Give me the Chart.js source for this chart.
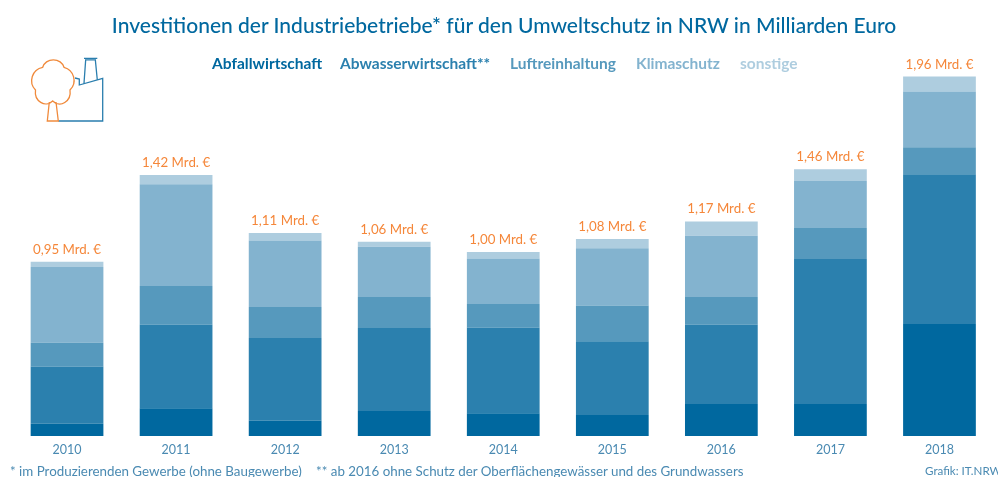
<!DOCTYPE html>
<html>
  <head>
    <meta charset="utf-8" />
    <script src="https://cdn.jsdelivr.net/npm/chart.js"></script>
    <style>
      html, body { margin: 0; padding: 0; background: #fff; }
      #wrap { position: relative; width: 998px; height: 477px; overflow: hidden; font-family: Lato, sans-serif; }
      #title { position: absolute; left: 0; width: 1008px; top: 12px; text-align: center; color: #00689f; font-size: 21px; font-weight: 500; white-space: nowrap; }
      #legend span { position: absolute; top: 54px; font-size: 15.5px; font-weight: 700; white-space: nowrap; }
      .note { position: absolute; top: 463px; color: #4a8ab2; font-size: 13.35px; white-space: nowrap; }
      #icon { position: absolute; left: 20px; top: 50px; }
    </style>
  </head>

  <body>
    <div id="wrap">
      <canvas id="chart" width="998" height="477"></canvas>
      <div id="title">Investitionen der Industriebetriebe* für den Umweltschutz in NRW in Milliarden Euro</div>
      <div id="legend"></div>
      <svg id="icon" width="100" height="80" viewBox="0 0 100 80" fill="none" stroke-width="1.3">
        <path d="M38.3 71 H82.7 V28.3 L59.3 35 V29 L55 28 M64 33.3 L65.7 9.5 M77.3 30 L75.3 9.5 M64 8.3 H77.3 M65 9.8 H76" stroke="#2a7eae" />
        <path d="M22.7 17.3 A11 10 0 0 1 44 17.3 A13.5 13.5 0 0 1 50 40 A10.5 12 0 0 1 32.7 51 A10.5 12 0 0 1 15.5 40 A13.5 13.5 0 0 1 22.7 17.3 Z M29.3 52 L27.3 71 H38.3 L36 52" stroke="#f08a3c" />
      </svg>
      <div class="note" style="left: 10px">* im Produzierenden Gewerbe (ohne Baugewerbe)</div>
      <div class="note" style="left: 316px">** ab 2016 ohne Schutz der Oberflächengewässer und des Grundwassers</div>
      <div class="note" style="left: 925px; font-size: 11.6px; top: 464px">Grafik: IT.NRW</div>
    </div>

    <script>
      const years = ["2010", "2011", "2012", "2013", "2014", "2015", "2016", "2017", "2018"];
      const abfall = [0.067, 0.151, 0.084, 0.136, 0.124, 0.114, 0.174, 0.174, 0.61];
      const abwasser = [0.312, 0.456, 0.45, 0.452, 0.467, 0.403, 0.434, 0.79, 0.817];
      const luft = [0.129, 0.211, 0.169, 0.169, 0.129, 0.194, 0.149, 0.169, 0.147];
      const klima = [0.413, 0.554, 0.363, 0.274, 0.247, 0.312, 0.334, 0.256, 0.303];
      const sonstige = [0.029, 0.051, 0.04, 0.027, 0.036, 0.051, 0.078, 0.065, 0.082];
      const totals = ["0,95", "1,42", "1,11", "1,06", "1,00", "1,08", "1,17", "1,46", "1,96"];

      const seriesNames = ["Abfallwirtschaft", "Abwasserwirtschaft**", "Luftreinhaltung", "Klimaschutz", "sonstige"];
      const barColors = ["#00689f", "#2b80ae", "#5699bd", "#83b3cf", "#aecddf"];
      const legendLeft = [212, 340, 510, 636, 740];

      document.getElementById("legend").innerHTML = seriesNames
        .map((name, i) => `<span style="left: ${legendLeft[i]}px; color: ${barColors[i]}">${name}</span>`)
        .join("");

      // writes the total above each stack
      const totalLabels = {
        id: "totalLabels",
        afterDatasetsDraw(chart) {
          const ctx = chart.ctx;
          const top = chart.getDatasetMeta(4).data;
          ctx.save();
          ctx.font = "13.3px Lato";
          ctx.fillStyle = "#f5873a";
          ctx.textAlign = "center";
          top.forEach((bar, i) => {
            ctx.fillText(totals[i] + " Mrd. €", bar.x, bar.y - 8);
          });
          ctx.restore();
        },
      };

      const allSeries = [abfall, abwasser, luft, klima, sonstige];

      new Chart(document.getElementById("chart"), {
        type: "bar",
        data: {
          labels: years,
          datasets: allSeries.map((values, i) => ({
            label: seriesNames[i],
            data: values,
            backgroundColor: barColors[i],
            barPercentage: 1,
            categoryPercentage: 0.667,
          })),
        },
        options: {
          responsive: false,
          animation: false,
          layout: { padding: { left: 12.5, right: 4, top: 69, bottom: 14 } },
          plugins: { legend: { display: false }, title: { display: false }, tooltip: { enabled: false } },
          scales: {
            x: {
              stacked: true,
              border: { display: false },
              grid: { display: false, drawTicks: false },
              ticks: { color: "#4a8ab2", font: { family: "Lato", size: 12.5 }, padding: 6, maxRotation: 0 },
            },
            y: { stacked: true, display: false, min: 0, max: 2 },
          },
        },
        plugins: [totalLabels],
      });
    </script>
  </body>
</html>
